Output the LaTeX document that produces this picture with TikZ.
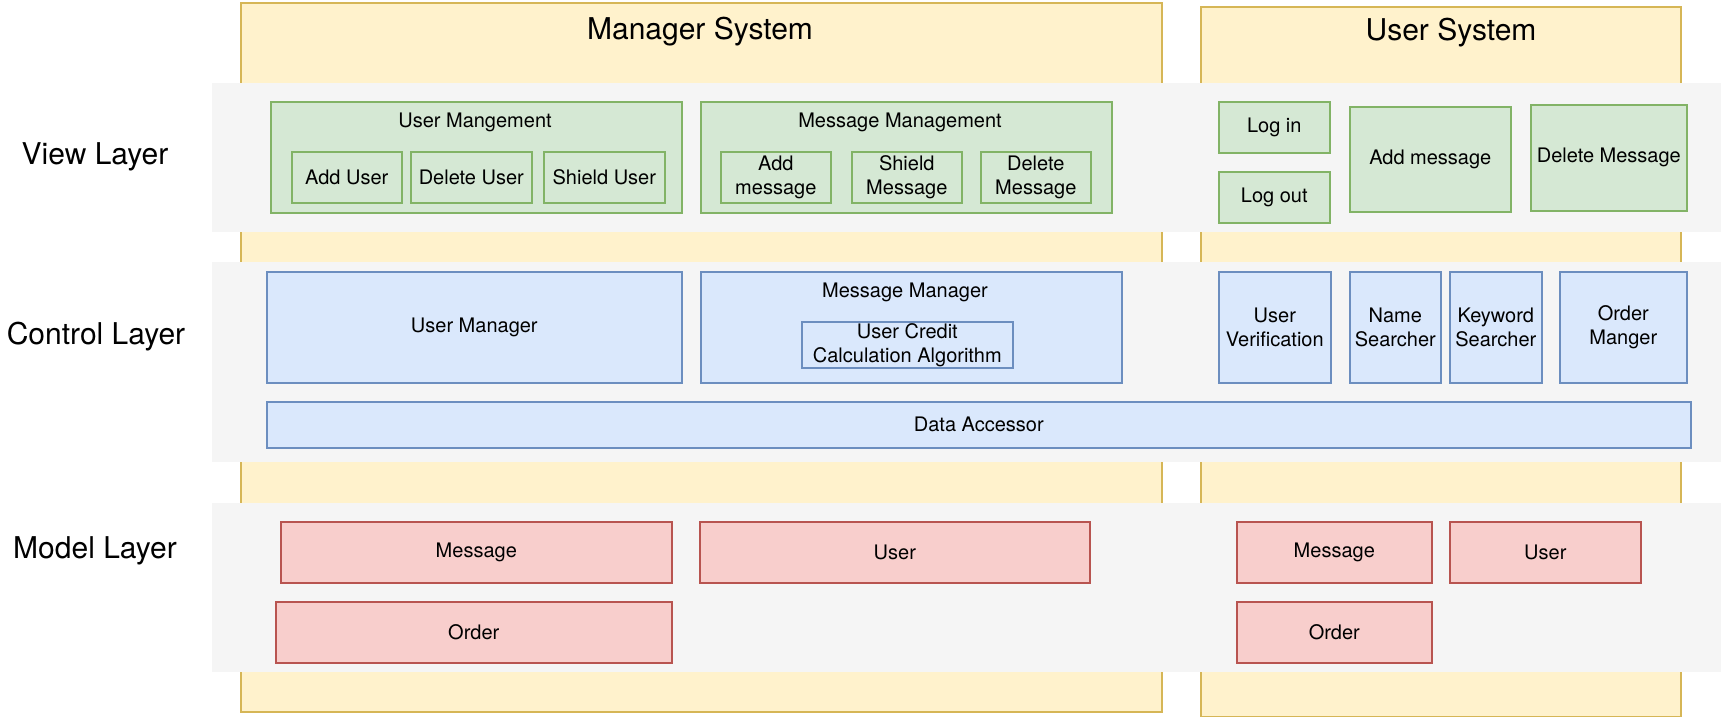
\documentclass[tikz,border=0pt]{standalone}
\usepackage{fontspec}
\setmainfont{TeX Gyre Heros}
\usepackage{tikz}
\definecolor{sysfill}{HTML}{FFF2CC}
\definecolor{sysline}{HTML}{D6B656}
\definecolor{bandfill}{HTML}{F5F5F5}
\definecolor{viewfill}{HTML}{D5E8D4}
\definecolor{viewline}{HTML}{82B366}
\definecolor{ctrlfill}{HTML}{DAE8FC}
\definecolor{ctrlline}{HTML}{6C8EBF}
\definecolor{modelfill}{HTML}{F8CECC}
\definecolor{modelline}{HTML}{B85450}
\tikzset{every node/.style={font=\fontsize{20}{24}\selectfont, inner sep=0pt, align=center},
wh/.style 2 args={minimum width=#1pt, minimum height=#2pt},
cell/.style={anchor=north west, line width=1.6pt},
sysbox/.style={cell, draw=sysline, fill=sysfill},
band/.style={cell, fill=bandfill},
viewbox/.style={cell, draw=viewline, fill=viewfill},
ctrlbox/.style={cell, draw=ctrlline, fill=ctrlfill},
modelbox/.style={cell, draw=modelline, fill=modelfill},
title/.style={font=\fontsize{30}{36}\selectfont}}

\begin{document}
\begin{tikzpicture}[x=1pt,y=-1pt]
\useasboundingbox (0,0) rectangle (1721,717);
\node[sysbox, wh={921}{709}] (mgrsys) at (240,2) {};
\node[sysbox, wh={480}{710}] (usrsys) at (1200,6) {};
\node[title] (mgrtitle) at (700,32) {Manager System};
\node[title] (usrtitle) at (1451,33) {User System};
\node[band, wh={1510}{149}] (viewband) at (211,82) {};
\node[band, wh={1510}{200}] (ctrlband) at (211,261) {};
\node[band, wh={1510}{169}] (modelband) at (211,502) {};
\node[title] (viewlbl) at (95,157) {View Layer};
\node[title] (ctrllbl) at (96,337) {Control Layer};
\node[title] (modellbl) at (95,551) {Model Layer};
% view layer
\node[viewbox, wh={411}{111}] (usermgmt) at (270,101) {};
\node (usermgmttitle) at (475,122) {User Mangement};
\node[viewbox, wh={110}{51}] (adduser) at (291,151) {Add User};
\node[viewbox, wh={121}{51}] (deluser) at (410,151) {Delete User};
\node[viewbox, wh={121}{51}] (shielduser) at (543,151) {Shield User};
\node[viewbox, wh={411}{111}] (msgmgmt) at (700,101) {};
\node (msgmgmttitle) at (900,122) {Message Management};
\node[viewbox, wh={110}{51}] (addmsg) at (720,151) {Add\\message};
\node[viewbox, wh={110}{51}] (shieldmsg) at (851,151) {Shield\\Message};
\node[viewbox, wh={110}{51}] (delmsg) at (980,151) {Delete\\Message};
\node[viewbox, wh={111}{51}] (login) at (1218,101) {Log in};
\node[viewbox, wh={111}{51}] (logout) at (1218,171) {Log out};
\node[viewbox, wh={161}{105}] (uaddmsg) at (1349,106) {Add message};
\node[viewbox, wh={156}{106}] (udelmsg) at (1530,104) {Delete Message};
% control layer
\node[ctrlbox, wh={415}{111}] (usermgr) at (266,271) {User Manager};
\node[ctrlbox, wh={421}{111}] (msgmgr) at (700,271) {};
\node (msgmgrtitle) at (905,292) {Message Manager};
\node[ctrlbox, wh={211}{46}] (credit) at (801,321) {User Credit\\Calculation Algorithm};
\node[ctrlbox, wh={112}{111}] (verify) at (1218,271) {User\\Verification};
\node[ctrlbox, wh={91}{111}] (namesearch) at (1349,271) {Name\\Searcher};
\node[ctrlbox, wh={92}{111}] (keysearch) at (1449,271) {Keyword\\Searcher};
\node[ctrlbox, wh={127}{111}] (ordermgr) at (1559,271) {Order\\Manger};
\node[ctrlbox, wh={1424}{46}] (accessor) at (266,401) {Data Accessor};
% model layer
\node[modelbox, wh={391}{61}] (mmsg) at (280,521) {Message};
\node[modelbox, wh={390}{61}] (muser) at (699,521) {User};
\node[modelbox, wh={396}{61}] (morder) at (275,601) {Order};
\node[modelbox, wh={195}{61}] (umsg) at (1236,521) {Message};
\node[modelbox, wh={191}{61}] (uuser) at (1449,521) {User};
\node[modelbox, wh={195}{61}] (uorder) at (1236,601) {Order};
\end{tikzpicture}
\end{document}
